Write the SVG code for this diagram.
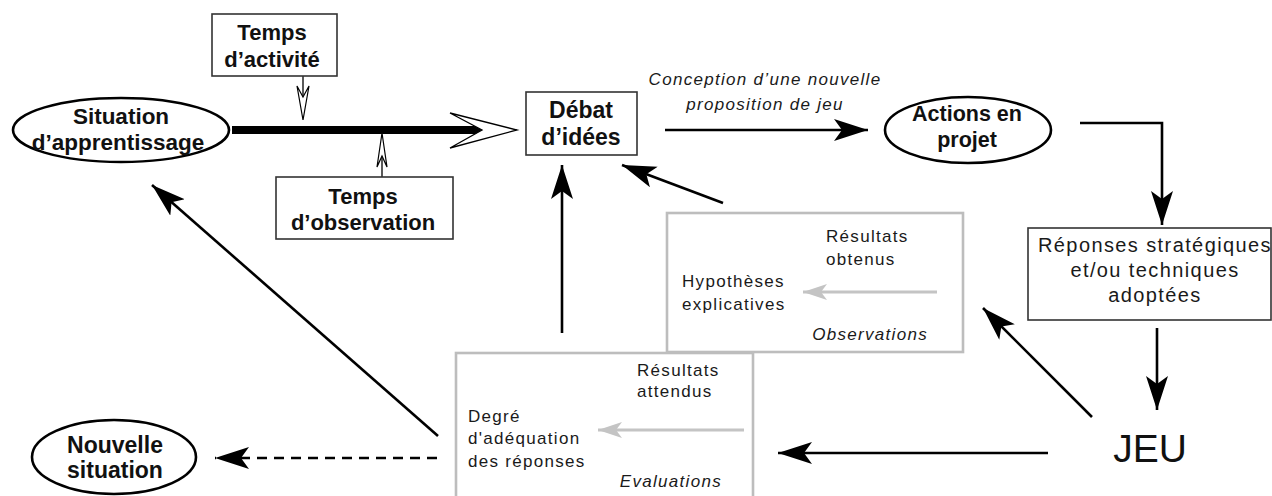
<svg xmlns="http://www.w3.org/2000/svg" width="1272" height="496" viewBox="0 0 1272 496">
<style>
.b{font-family:"Liberation Sans",Arial,sans-serif;font-weight:bold;font-size:23px;fill:#111;text-anchor:middle}
.t{font-size:22px}
.r{font-family:"Liberation Sans",Arial,sans-serif;font-size:17px;letter-spacing:1.3px;fill:#1a1a1a}
.it{font-style:italic}
.box{fill:#fff;stroke:#333;stroke-width:1.6}
.gbox{fill:#fff;stroke:#bdbdbd;stroke-width:2.6}
.ell{fill:#fff;stroke:#000;stroke-width:2.6}
.c{fill:none;stroke:#000;stroke-width:2.6}
.g{fill:none;stroke:#c4c4c4;stroke-width:3}
</style>
<defs>
<marker id="ah" markerUnits="userSpaceOnUse" markerWidth="36" markerHeight="24" refX="34" refY="11" orient="auto">
<path d="M34,11 L0,0 L8,11 L0,22 Z" fill="#000"/>
</marker>
<marker id="gh" markerUnits="userSpaceOnUse" markerWidth="26" markerHeight="18" refX="24" refY="8" orient="auto">
<path d="M24,8 L0,0 L6,8 L0,16 Z" fill="#c4c4c4"/>
</marker>
</defs>

<g id="connectors">
<line x1="232" y1="130" x2="482" y2="130" stroke="#000" stroke-width="8"/>
<polygon points="450,113 517,130 450,148 482,130" fill="#fff" stroke="#000" stroke-width="1.3"/>
<line x1="303" y1="76" x2="303" y2="97" stroke="#000" stroke-width="1.3"/>
<polygon points="297,86 303,120 309,86 303,97" fill="#fff" stroke="#000" stroke-width="1.2"/>
<line x1="382" y1="177" x2="382" y2="156" stroke="#000" stroke-width="1.3"/>
<polygon points="377,167 382,133 387,167 382,156" fill="#fff" stroke="#000" stroke-width="1.2"/>
<line class="c" x1="665" y1="130" x2="868" y2="130" marker-end="url(#ah)"/>
<polyline class="c" points="1080,123 1162,123 1162,225" marker-end="url(#ah)"/>
<line class="c" x1="1157" y1="328" x2="1157" y2="410" marker-end="url(#ah)"/>
<line class="c" x1="1048" y1="453" x2="778" y2="453" marker-end="url(#ah)"/>
<line class="c" x1="1092" y1="417" x2="983" y2="308" marker-end="url(#ah)"/>
<line class="c" x1="723" y1="203" x2="622" y2="165" marker-end="url(#ah)"/>
<line class="c" x1="562" y1="333" x2="562" y2="165" marker-end="url(#ah)"/>
<line class="c" x1="438" y1="436" x2="152" y2="185" marker-end="url(#ah)"/>
<line class="c" x1="437" y1="458" x2="215" y2="458" stroke-dasharray="10 7" marker-end="url(#ah)"/>
</g>

<g id="situation">
<ellipse class="ell" cx="121" cy="130" rx="108" ry="32"/>
<text class="b" x="121" y="124" style="font-size:22.5px">Situation</text>
<text class="b" x="118" y="150" style="font-size:22.5px">d’apprentissage</text>
</g>

<g id="temps-activite">
<rect class="box" x="212" y="14" width="125" height="62"/>
<text class="b t" x="272" y="40">Temps</text>
<text class="b t" x="272" y="67">d’activité</text>
</g>

<g id="temps-observation">
<rect class="box" x="276" y="177" width="177" height="62"/>
<text class="b t" x="363" y="204">Temps</text>
<text class="b t" x="363" y="230">d’observation</text>
</g>

<g id="debat">
<rect class="box" x="526" y="92" width="111" height="63"/>
<text class="b" x="581" y="118">Débat</text>
<text class="b" x="581" y="145">d’idées</text>
</g>

<g id="conception-label">
<text class="r it" x="765" y="85" text-anchor="middle">Conception d’une nouvelle</text>
<text class="r it" x="765" y="110" text-anchor="middle">proposition de jeu</text>
</g>

<g id="actions">
<ellipse class="ell" cx="968" cy="130" rx="83" ry="33"/>
<text class="b" x="967" y="121" style="font-size:21.5px">Actions en</text>
<text class="b" x="967" y="147" style="font-size:21.5px">projet</text>
</g>

<g id="reponses">
<rect class="box" x="1028" y="228" width="243" height="92"/>
<text class="r" x="1155" y="252" text-anchor="middle" style="font-size:20px;letter-spacing:1.4px">Réponses stratégiques</text>
<text class="r" x="1155" y="277" text-anchor="middle" style="font-size:20px;letter-spacing:1.4px">et/ou techniques</text>
<text class="r" x="1155" y="302" text-anchor="middle" style="font-size:20px;letter-spacing:1.4px">adoptées</text>
</g>

<g id="jeu">
<text x="1150" y="462" text-anchor="middle" style="font-family:'Liberation Sans',Arial,sans-serif;font-size:39px;fill:#111">JEU</text>
</g>

<g id="observations">
<rect class="gbox" x="667" y="213" width="296" height="139"/>
<text class="r" x="826" y="242">Résultats</text>
<text class="r" x="826" y="265">obtenus</text>
<text class="r" x="682" y="287">Hypothèses</text>
<text class="r" x="682" y="310">explicatives</text>
<line class="g" x1="937" y1="292" x2="803" y2="292" marker-end="url(#gh)"/>
<text class="r it" x="928" y="340" text-anchor="end">Observations</text>
</g>

<g id="evaluations">
<rect class="gbox" x="456" y="353" width="297" height="146"/>
<text class="r" x="637" y="376">Résultats</text>
<text class="r" x="637" y="397">attendus</text>
<text class="r" x="468" y="422">Degré</text>
<text class="r" x="468" y="444">d'adéquation</text>
<text class="r" x="468" y="467">des réponses</text>
<line class="g" x1="744" y1="430" x2="598" y2="430" marker-end="url(#gh)"/>
<text class="r it" x="722" y="487" text-anchor="end">Evaluations</text>
</g>

<g id="nouvelle">
<ellipse class="ell" cx="114" cy="457" rx="82" ry="37"/>
<text class="b" x="115" y="453">Nouvelle</text>
<text class="b" x="115" y="478">situation</text>
</g>
</svg>
